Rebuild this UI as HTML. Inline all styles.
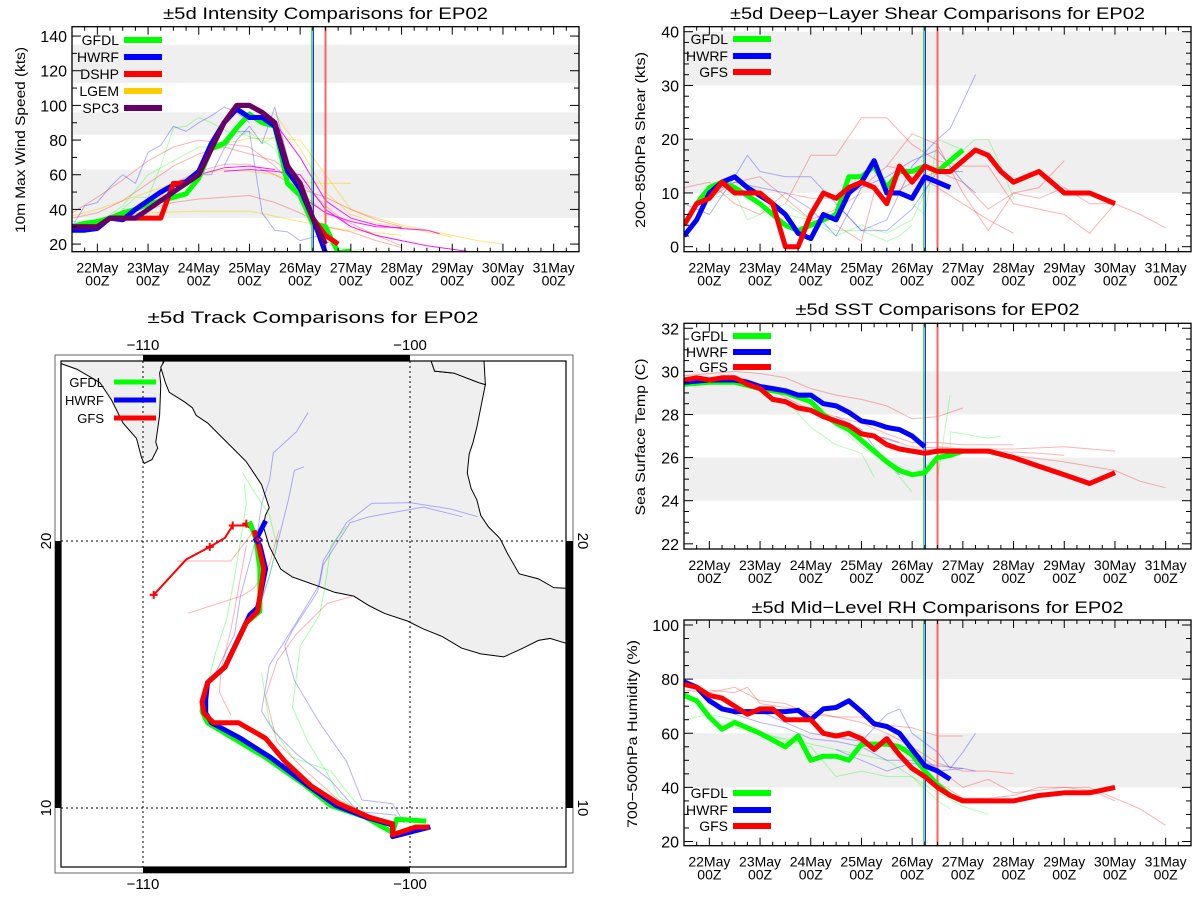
<!DOCTYPE html>
<html><head><meta charset="utf-8"><style>
html,body{margin:0;padding:0;background:#fff;}
svg{display:block;font-family:"Liberation Sans",sans-serif;}
</style></head><body>
<svg id="root" width="1200" height="900" viewBox="0 0 1200 900" xmlns="http://www.w3.org/2000/svg"></svg>
<script>
// ===== Intensity data =====
const intTimes = [21.5,21.75,22,22.25,22.5,22.75,23,23.25,23.5,23.75,24,24.25,24.5,24.75,25,25.25,25.5,25.75,26,26.25,26.5];
const intSPC3 = [30,30,30,35,35,35,40,45,50,55,60,75,90,100,100,96,90,65,55,35,20];
const intHWRF = [28,28,29,35,34,40,45,50,54,56,62,78,90,98,93,93,88,62,52,35,15];
const intGFDLt = [21.5,21.75,22,22.25,22.5,22.75,23,23.25,23.5,23.75,24,24.25,24.5,24.75,25,25.25,25.5,25.75,26,26.25,26.5,26.75,27];
const intGFDL = [30,32,33,35,38,40,43,45,47,49,58,75,78,87,95,90,88,55,48,32,30,15,16];
const intDSHPt = [21.5,21.75,22,22.25,22.5,22.75,23,23.25,23.5,23.75,24,24.25,24.5,24.75,25,25.25,25.5,25.75,26,26.25,26.5,26.75];
const intDSHP = [30,30,30,35,35,35,35,35,55,55,60,75,90,100,100,96,90,65,55,35,25,20];
const intThinBlue = [
 [[21.5,30],[21.75,42],[22,44],[22.25,53],[22.5,60],[22.75,55],[23,73],[23.25,77],[23.5,88],[23.75,85],[24,90],[24.25,94],[24.5,99],[24.75,96],[25,90]],
 [[24.5,65],[24.75,80],[25,88],[25.25,78],[25.5,99],[25.75,70],[26,45],[26.25,30],[26.5,20]],
 [[24,60],[24.25,60],[24.5,75],[24.75,85],[25,85],[25.25,38],[25.5,28],[25.75,27],[26,22],[26.25,24],[26.5,25],[26.75,21]]];
const intThinGreen = [
 [[22.5,40],[22.75,47],[23,47],[23.25,65],[23.5,87],[23.75,88],[24,93],[24.25,90],[24.5,86],[24.75,82],[25,85],[25.25,78],[25.5,82],[25.75,63],[26,45],[26.25,28],[26.5,22],[26.75,18],[27,16],[27.25,17]],
 [[21.5,33],[22,32],[22.5,42],[23,60],[23.5,68],[24,76],[24.25,76],[24.5,80],[24.75,85],[25,82],[25.25,80],[25.5,75],[25.75,60],[26,45],[26.25,35]]];
const intThinRed = [
 [[21.5,38],[22,47],[22.5,57],[23,68],[23.5,76],[24,80],[24.5,78],[25,76],[25.5,65],[26,50],[26.5,38],[27,32],[27.5,25],[28,22]],
 [[21.5,35],[22,38],[22.5,45],[23,55],[23.5,65],[24,72],[24.5,76],[25,72],[25.5,68],[26,56],[26.5,42],[27,30],[27.5,25],[28,19]],
 [[22.5,35],[23,40],[23.5,44],[24,46],[24.5,47],[25,48],[25.5,44],[26,38],[26.5,30],[27,27],[27.5,22],[28,18]],
 [[23,40],[23.5,55],[24,62],[24.5,66],[25,66],[25.5,60],[26,52],[26.5,47],[27,40],[27.5,34],[28,30]]];
const intThinYellow = [
 [[21.5,36],[22,40],[22.5,45],[23,50],[23.5,55],[24,60],[24.5,63],[25,62],[25.5,60],[26,56],[26.5,55],[27,55]],
 [[22,32],[23,38],[24,39],[25,39],[25.5,36],[26,33],[26.5,30],[27,28],[28,25]],
 [[24,70],[24.5,78],[25,81],[25.5,81],[26,80],[26.5,60],[27,40],[27.5,35],[28,31],[28.5,28],[29,25],[29.5,22],[30,20]],
 [[25.5,95],[26,75],[26.5,50],[27,37],[27.5,32],[28,30],[28.5,27],[29,24]]];
const intThinMagenta = [
 [[22,32],[22.5,37],[23,45],[23.5,54],[24,60],[24.5,64],[25,65],[25.5,63]],
 [[25.5,90],[26,70],[26.5,45],[27,35],[27.5,31],[28,29],[28.5,28],[28.75,26]],
 [[24.5,62],[25,63],[25.5,62],[26,60],[26.5,40],[27,30],[27.5,25],[28,22],[28.5,19],[29,17],[29.5,15]],
 [[26,48],[26.5,38],[27,33],[27.5,30],[28,29.5]]];

// ===== Shear data =====
const shrGFSt = [21.5,21.75,22,22.25,22.5,22.75,23,23.25,23.5,23.75,24,24.25,24.5,24.75,25,25.25,25.5,25.75,26,26.25,26.5,26.75,27,27.25,27.5,27.75,28,28.25,28.5,28.75,29,29.25,29.5,29.75,30];
const shrGFS = [4,8,9,12,10,10,10,8,0,0,6,10,9,11,12,11,8,15,12,15,14,14,16,18,17,14,12,13,14,12,10,10,10,9,8];
const shrHWRFt = [21.5,21.75,22,22.25,22.5,22.75,23,23.25,23.5,23.75,24,24.25,24.5,24.75,25,25.25,25.5,25.75,26,26.25,26.5,26.75];
const shrHWRF = [2,5,10,12,13,11,9.5,8,6,2.5,1.5,6,5,10,12,16,10,10,9,13,12,11];
const shrGFDLt = [21.75,22,22.25,22.5,22.75,23,23.25,23.5,23.75,24,24.25,24.5,24.75,25,25.25,25.5,25.75,26,26.25,26.5,26.75,27];
const shrGFDL = [8,11,12,11,9.5,8,6,4,3,4,5,6,13,13,15,11,14,14,15,14,16,18];
const shrThinRed = [
 [[23.5,8],[24,17],[24.5,17],[25,24],[25.5,24],[26,19],[26.5,16],[27,15],[27.5,15],[28,8],[28.5,7],[29,6],[29.5,2.5],[30,8]],
 [[25.5,15],[26,21],[26.5,19],[27,10],[27.5,3],[28,10],[28.5,11],[29,16]],
 [[21.5,11],[22,12],[22.5,8],[23,6],[23.5,10],[24,9],[24.5,9],[25,11],[25.5,15],[26,14],[26.5,11],[27,8],[27.5,5],[28,2.5]],
 [[24.5,4],[25,1],[25.25,10],[25.5,9],[26,12],[26.5,14],[27,12],[27.5,7],[28,10],[28.5,9],[29,11],[29.5,8],[30,8],[30.5,6],[31,3.5]],
 [[22,9],[22.5,12],[23,13],[23.5,9],[24,5],[24.5,7],[25,10]]];
const shrThinBlue = [
 [[21.5,8],[22,6],[22.5,13],[22.75,17],[23,14],[23.5,13],[24,13],[24.5,8],[25,3],[25.5,5],[26,15],[26.5,20],[26.75,22],[27,27],[27.25,32]],
 [[22,10],[22.5,12],[23,11],[23.5,10],[24,7],[24.5,2],[25,11],[25.5,13],[26,16],[26.5,18],[27,12],[27.25,10]],
 [[24.5,8],[25,3],[25.5,3],[26,7],[26.5,14],[27,14]]];
const shrThinGreen = [
 [[22,9],[22.5,10],[22.75,5],[23,6],[23.5,8],[24,5],[24.5,3],[25,3],[25.5,1],[25.75,2],[26,4]],
 [[26,8],[26.25,6],[26.5,20],[26.75,19],[27,18],[27.25,20],[27.5,20],[27.75,15],[28,9]],
 [[23.5,6],[24,5],[24.5,2],[25,4],[25.5,2.5],[26,5],[26.5,15]]];

// ===== SST data =====
const sstGFSt = [21.5,21.75,22,22.25,22.5,22.75,23,23.25,23.5,23.75,24,24.25,24.5,24.75,25,25.25,25.5,25.75,26,26.25,26.5,26.75,27,27.25,27.5,28,28.5,29,29.5,30];
const sstGFS = [29.6,29.7,29.6,29.7,29.7,29.4,29.2,28.7,28.6,28.3,28.2,27.9,27.7,27.5,27.1,27.0,26.6,26.4,26.3,26.2,26.3,26.3,26.3,26.3,26.3,26.0,25.6,25.2,24.8,25.3];
const sstHWRFt = [21.5,22,22.5,22.75,23,23.25,23.5,23.75,24,24.25,24.5,24.75,25,25.25,25.5,25.75,26,26.25];
const sstHWRF = [29.5,29.6,29.6,29.5,29.3,29.2,29.1,28.9,28.9,28.5,28.4,28.1,27.7,27.6,27.4,27.3,27.0,26.5];
const sstGFDLt = [21.5,22,22.5,23,23.5,23.75,24,24.25,24.5,24.75,25,25.25,25.5,25.75,26,26.25,26.5,26.75,27];
const sstGFDL = [29.4,29.5,29.5,29.2,29.0,28.8,28.6,28.0,27.6,27.3,26.8,26.3,25.8,25.4,25.2,25.3,26.0,26.1,26.3];
const sstThinRed = [
 [[21.5,29.8],[22,29.9],[22.5,30],[23,29.9],[23.5,29.7],[24,29.2],[24.5,28.9],[25,28.7],[25.5,28.4],[26,27.8],[26.5,27.9],[27,28.3]],
 [[22.5,29.8],[23,29.4],[24,28.2],[25,27.6],[25.5,27.1],[26,26.7],[26.5,26.7],[27,26.6],[28,26.6]],
 [[25,27.2],[26,26.5],[27,26.4],[28,26.4],[29,26.5],[30,26.3]],
 [[26,26.4],[27,26.3],[28,26.1],[29,25.8],[30,25.4],[30.5,24.9],[31,24.6]],
 [[26.5,26.5],[27.5,26.3],[28.5,26.2],[29,26.1]]];
const sstThinGreen = [
 [[23.5,28.7],[24,27.4],[24.5,26.6],[25,26.2],[25.25,25.1]],
 [[24.5,27.5],[25,26.5],[25.5,25.8],[26,24.4]],
 [[26.5,25.0],[26.75,28.9]],
 [[26.75,26.5],[26.75,27.2],[27,27.1],[27.5,26.9],[27.75,27.0]]];
const sstThinBlue = [
 [[24.5,27.9],[25,27.3],[25.25,26.5],[25.5,25.8],[25.75,25.2]],
 [[25,27.1],[25.5,26.9],[25.75,26.7]]];

// ===== RH data =====
const rhGFSt = [21.5,21.75,22,22.25,22.5,22.75,23,23.25,23.5,23.75,24,24.25,24.5,24.75,25,25.25,25.5,25.75,26,26.25,26.5,26.75,27,27.5,28,28.5,29,29.5,30];
const rhGFS = [78,77,74,73,70,67,69,69,65,65,65,60,59,60,58,54,58,52,47,44,40,37,35,35,35,37,38,38,40];
const rhHWRFt = [21.5,21.75,22,22.25,22.5,22.75,23,23.5,23.75,24,24.25,24.5,24.75,25,25.25,25.5,25.75,26,26.25,26.5,26.75];
const rhHWRF = [79,77,72,69,68,68,68,68,68.5,65,69,69.5,72,68,63.5,62.5,60,54,48,46,43];
const rhGFDLt = [21.5,21.75,22,22.25,22.5,22.75,23,23.5,23.75,24,24.25,24.5,24.75,25,25.25,25.5,25.75,26,26.25,26.5,26.75,27];
const rhGFDL = [74,72,66,61.5,64,62,60,55,59,50,51.5,51.5,50,56,56,56,55,52,46,41,37,35];
const rhThinRed = [
 [[21.5,76],[22,75],[22.5,77],[23,72],[23.5,71],[24,67],[24.5,66],[25,66],[25.5,63],[26,62],[26.5,59],[27,59]],
 [[22,76],[22.5,75],[22.75,77],[23,71],[24,68],[25,64],[25.5,60],[26,55],[26.5,49],[27,46],[27.5,46],[28,45]],
 [[25,55],[25.5,57],[26,54],[26.5,47],[27,40],[27.5,43],[28,38],[28.5,39],[29,40],[29.5,40],[30,36],[30.5,32],[31,26]],
 [[26.5,42],[27,36],[27.5,36],[28,37],[28.5,40],[29,40],[29.5,39],[30,35]]];
const rhThinBlue = [
 [[22,73],[22.5,67],[23,64],[23.5,62],[24,58],[24.5,57],[25,55],[25.5,50],[26,50],[26.5,48],[27,47]],
 [[23,68],[23.5,64],[24,60],[25,57],[25.5,67],[25.75,69],[26,60],[26.5,53],[26.75,47],[27,53],[27.25,60]],
 [[24.5,54],[25,50],[25.5,46],[26,49],[26.5,46],[27,47],[27.25,46]]];
const rhThinGreen = [
 [[21.5,65],[22,67],[22.5,65],[23,60],[24,55],[24.5,44],[25,46],[25.5,44],[26,44],[26.5,38],[27,33],[27.5,30]],
 [[22.5,62],[23,60],[24,56],[25,52],[25.5,50],[26,44],[26.5,35],[26.75,32]]];

// ===== Track data (lon, lat) =====
const trkGFSLon = [-99.28,-99.78,-100.65,-100.65,-101.52,-102.67,-103.68,-104.69,-105.41,-106.42,-107.36,-107.72,-107.79,-107.58,-106.93,-106.13,-105.70,-105.48,-105.67,-105.84];
const trkGFSLat = [9.29,9.29,9.0,9.41,9.65,10.16,10.81,11.75,12.61,13.19,13.19,13.55,13.98,14.70,15.28,16.94,17.37,18.96,19.83,20.40];
const trkGFSFcLon = [-105.84,-106.13,-106.64,-106.93,-107.50,-108.37,-109.60];
const trkGFSFcLat = [20.40,20.58,20.58,20.12,19.78,19.32,17.98];
const trkHWRFLon = [-99.24,-100.65,-100.65,-101.62,-102.77,-103.78,-105.22,-106.35,-107.43,-107.65,-107.65,-107.58,-106.93,-106.0,-105.70,-105.41,-105.62,-105.77,-105.41];
const trkHWRFLat = [9.29,8.93,9.36,9.65,10.09,10.81,11.89,12.61,13.19,13.55,14.05,14.70,15.28,17.23,17.51,18.96,19.83,20.04,20.76];
const trkGFDLLon = [-99.39,-100.50,-100.65,-101.66,-102.96,-103.97,-105.41,-107.58,-107.79,-107.72,-107.58,-106.93,-106.13,-105.62,-105.62,-105.77,-106.01];
const trkGFDLLat = [9.51,9.58,9.08,9.65,10.09,10.88,11.89,13.19,13.62,14.05,14.70,15.28,16.94,17.37,18.96,20.09,20.73];
const trkThinBlue = [
 [[-103.82,24.81],[-104.25,24.09],[-105.12,23.30],[-105.26,22.29],[-105.55,21.42],[-105.70,20.40]],
 [[-103.97,22.78],[-104.33,22.64],[-104.55,21.56],[-104.98,19.83],[-105.27,18.67],[-105.77,17.09]],
 [[-97.47,20.91],[-98.48,21.20],[-100.0,21.44],[-101.44,21.41],[-102.38,20.69],[-103.25,19.25],[-103.46,18.10],[-104.40,16.65],[-104.69,16.08],[-104.33,14.78],[-103.39,13.19],[-102.38,11.75],[-101.80,10.30],[-100.65,10.16],[-100.22,9.44]],
 [[-98.05,20.91],[-99.49,21.27],[-101.52,20.91],[-102.24,20.69],[-103.25,19.11],[-103.39,18.38],[-104.26,16.94],[-105.27,15.35],[-105.56,13.62],[-105.12,12.90],[-104.26,12.03],[-102.96,11.02],[-101.95,9.87],[-100.50,9.73]],
 [[-105.84,19.83],[-106.35,17.95],[-106.57,16.51],[-107.21,15.21],[-107.58,14.63]]];
const trkThinGreen = [
 [[-106.28,22.57],[-105.84,21.85],[-105.27,20.98],[-104.98,19.83],[-105.27,18.67],[-105.56,17.81]],
 [[-106.21,22.14],[-106.13,21.41],[-106.28,20.40],[-106.57,18.67],[-106.86,17.09],[-107.29,15.79],[-107.58,14.63]],
 [[-102.38,20.55],[-102.96,19.83],[-103.17,18.38],[-103.39,17.23],[-104.11,16.08],[-104.40,13.77],[-103.82,12.47],[-103.10,11.31],[-102.67,10.45],[-101.95,9.87],[-100.79,9.15]],
 [[-105.56,15.07],[-105.27,13.19],[-104.40,11.89],[-102.96,11.38],[-102.24,10.45],[-101.52,9.65]]];
const trkThinRed = [
 [[-104.91,20.40],[-105.27,19.11],[-105.56,18.67],[-105.84,18.24],[-106.28,17.95],[-108.30,17.30]],
 [[-102.09,17.95],[-103.10,17.66],[-104.26,16.51],[-104.98,15.50],[-105.41,14.20],[-104.98,12.47],[-103.82,11.31],[-102.67,10.30],[-101.52,9.73]],
 [[-105.84,20.40],[-106.71,19.25],[-108.73,19.25]],
 [[-106.13,19.83],[-106.71,16.65],[-107.07,15.21],[-107.14,14.34],[-106.71,13.48]]];
const trkMarkLon = [-106.64,-106.13,-107.50,-109.60];
const trkMarkLat = [20.58,20.65,19.78,17.98];

const verts = [{d:26.23,c:'#00e000',w:1,n:'gfdl-init-line'},{d:26.26,c:'#0000ff',w:1,n:'hwrf-init-line'},{d:26.5,c:'#ff6060',w:2,n:'gfs-init-line'}];

const NS='http://www.w3.org/2000/svg';
const root=document.getElementById('root');
function mk(tag,attrs,parent){const e=document.createElementNS(NS,tag);for(const k in attrs)e.setAttribute(k,attrs[k]);(parent||root).appendChild(e);return e;}
function txt(s,attrs,parent){const e=mk('text',attrs,parent);e.textContent=s;return e;}

let clipId=0;
function panel(o){
  const g=mk('g',{});
  
  
  const X=d=>o.x0+(d-21.5)/10*(o.x1-o.x0);
  const Y=v=>o.y1-(v-o.v0)/(o.v1-o.v0)*(o.y1-o.y0);
  o.bands.forEach(b=>{
    const r=mk('rect',{x:o.x0,y:Y(Math.min(b[1],o.v1)),width:o.x1-o.x0,height:Y(b[0])-Y(Math.min(b[1],o.v1)),fill:'#efefef'},g);
    
    
  });
  const cid='c'+(clipId++);
  const cp=mk('clipPath',{id:cid},g);mk('rect',{x:o.x0,y:o.y0,width:o.x1-o.x0,height:o.y1-o.y0},cp);
  const sg=mk('g',{'clip-path':'url(#'+cid+')'},g);
  const line=(pts,col,w,op,name)=>{
    const p=mk('polyline',{points:pts.map(q=>X(q[0]).toFixed(1)+','+Y(q[1]).toFixed(1)).join(' '),fill:'none',stroke:col,'stroke-width':w,'stroke-opacity':op,'stroke-linejoin':'round'},sg);
    
    
  };
  o.thin.forEach(t=>t[0].forEach(pts=>line(pts,t[1],1,t[2]||0.35,t[3])));
  verts.forEach(v=>{
    const l=mk('line',{x1:X(v.d),x2:X(v.d),y1:o.y0,y2:o.y1,stroke:v.c,'stroke-width':v.w},sg);
    
    
  });
  o.thick.forEach(s=>line(s.t.map((t,i)=>[t,s.v[i]]),s.c,5,1,s.n));
  const fr=mk('rect',{x:o.x0,y:o.y0,width:o.x1-o.x0,height:o.y1-o.y0,fill:'none',stroke:'#000','stroke-width':1.3},g);
  
  
  for(let d=21.5;d<=31.5001;d+=0.25){
    const major=Math.abs(d-Math.round(d))<1e-6;const L=major?8:4;
    mk('line',{x1:X(d),x2:X(d),y1:o.y1,y2:o.y1-L,stroke:'#000'},g);
    mk('line',{x1:X(d),x2:X(d),y1:o.y0,y2:o.y0+L,stroke:'#000'},g);
    if(major&&d>=22&&d<=31){
      const t1=txt(d+'May',{x:X(d),y:o.y1+21,'font-size':14,'text-anchor':'middle'},g);
      
      
      const t2=txt('00Z',{x:X(d),y:o.y1+34,'font-size':14,'text-anchor':'middle'},g);
      
      
    }
  }
  for(let v=o.yt[0];v<=o.v1+1e-6;v+=o.yminor){
    if(v<o.v0)continue;
    const major=Math.abs(((v-o.yt[0])/o.ymajor)-Math.round((v-o.yt[0])/o.ymajor))<1e-6;const L=major?9:5;
    mk('line',{x1:o.x0,x2:o.x0+L,y1:Y(v),y2:Y(v),stroke:'#000'},g);
    mk('line',{x1:o.x1,x2:o.x1-L,y1:Y(v),y2:Y(v),stroke:'#000'},g);
    if(major){
      const t=txt(String(Math.round(v)),{x:o.x0-5,y:Y(v)+6,'font-size':16,'text-anchor':'end'},g);
      
      
    }
  }
  const yt=txt(o.ylabel,{x:0,y:0,'font-size':14,'text-anchor':'middle',textLength:o.ylen,lengthAdjust:'spacingAndGlyphs',transform:'translate('+o.ylx+','+o.yly+') rotate(-90)'},g);
  
  
  const tt=txt(o.title,{x:(o.x0+o.x1)/2,y:o.ty,'font-size':17,'text-anchor':'middle',textLength:o.tlen,lengthAdjust:'spacingAndGlyphs'},g);
  
  
  o.legend.forEach((e,i)=>{
    const y=o.ly[i];
    const lt=txt(e[0],{x:o.lx,y:y+5,'font-size':14,'text-anchor':'end'},g);
    
    
    const ll=mk('line',{x1:o.lx+5,x2:o.lx+43,y1:y,y2:y,stroke:e[1],'stroke-width':6},g);
    
    
  });
}

const G='#00ff00',B='#0000ff',R='#ff0000',Yc='#ffcc00',P='#660066';
panel({name:'intensity-chart',x0:72,x1:579,y0:26.7,y1:251.7,v0:15.6,v1:145.4,bands:[[35,63],[83,96],[113,135]],
  yt:[20],ymajor:20,yminor:10,ylabel:'10m Max Wind Speed (kts)',ylx:25,yly:140,ylen:186,
  title:'±5d Intensity Comparisons for EP02',ty:19,tlen:325,
  thin:[[intThinYellow,Yc,0.5,'lgem-thin'],[intThinRed,R,0.3,'dshp-thin'],[intThinGreen,G,0.3,'gfdl-thin'],[intThinBlue,B,0.3,'hwrf-thin'],[intThinMagenta,'#ff00ff',0.9,'spc3-thin']],
  thick:[{t:intGFDLt,v:intGFDL,c:G,n:'gfdl-line'},{t:intHWRF.map((_,i)=>intTimes[i]),v:intHWRF,c:B,n:'hwrf-line'},{t:intDSHPt,v:intDSHP,c:R,n:'dshp-line'},{t:intTimes,v:intSPC3,c:P,n:'spc3-line'}],
  legend:[['GFDL',G],['HWRF',B],['DSHP',R],['LGEM',Yc],['SPC3',P]],lx:119,ly:[40,57,74,91,108]});
panel({name:'shear-chart',x0:684,x1:1191,y0:26.7,y1:251.7,v0:-0.93,v1:40.93,bands:[[10,20],[30,40]],
  yt:[0],ymajor:10,yminor:2,ylabel:'200−850hPa Shear (kts)',ylx:645,yly:140,ylen:176,
  title:'±5d Deep−Layer Shear Comparisons for EP02',ty:19,tlen:415,
  thin:[[shrThinRed,R,0.3,'gfs-thin'],[shrThinGreen,G,0.3,'gfdl-thin'],[shrThinBlue,B,0.3,'hwrf-thin']],
  thick:[{t:shrGFDLt,v:shrGFDL,c:G,n:'gfdl-line'},{t:shrHWRFt,v:shrHWRF,c:B,n:'hwrf-line'},{t:shrGFSt,v:shrGFS,c:R,n:'gfs-line'}],
  legend:[['GFDL',G],['HWRF',B],['GFS',R]],lx:728,ly:[39,56,72]});
panel({name:'sst-chart',x0:684,x1:1191,y0:323.3,y1:549,v0:21.76,v1:32.23,bands:[[24,26],[28,30]],
  yt:[22],ymajor:2,yminor:0.5,ylabel:'Sea Surface Temp (C)',ylx:645,yly:437,ylen:157,
  title:'±5d SST Comparisons for EP02',ty:315,tlen:284,
  thin:[[sstThinRed,R,0.3,'gfs-thin'],[sstThinGreen,G,0.3,'gfdl-thin'],[sstThinBlue,B,0.3,'hwrf-thin']],
  thick:[{t:sstGFDLt,v:sstGFDL,c:G,n:'gfdl-line'},{t:sstHWRFt,v:sstHWRF,c:B,n:'hwrf-line'},{t:sstGFSt,v:sstGFS,c:R,n:'gfs-line'}],
  legend:[['GFDL',G],['HWRF',B],['GFS',R]],lx:728,ly:[336,352,367]});
panel({name:'rh-chart',x0:684,x1:1191,y0:620,y1:845.7,v0:18.45,v1:101.85,bands:[[40,60],[80,102]],
  yt:[20],ymajor:20,yminor:5,ylabel:'700−500hPa Humidity (%)',ylx:637,yly:734,ylen:188,
  title:'±5d Mid−Level RH Comparisons for EP02',ty:613,tlen:372,
  thin:[[rhThinRed,R,0.3,'gfs-thin'],[rhThinGreen,G,0.3,'gfdl-thin'],[rhThinBlue,B,0.3,'hwrf-thin']],
  thick:[{t:rhGFDLt,v:rhGFDL,c:G,n:'gfdl-line'},{t:rhHWRFt,v:rhHWRF,c:B,n:'hwrf-line'},{t:rhGFSt,v:rhGFS,c:R,n:'gfs-line'}],
  legend:[['GFDL',G],['HWRF',B],['GFS',R]],lx:728,ly:[793,810,826]});

// ===== Track map =====
(function(){
  const g=mk('g',{});
  
  
  const LX=lon=>143+(lon+110)*26.7;
  const LY=lat=>541-(lat-20)*26.7;
  const tt=txt('±5d Track Comparisons for EP02',{x:313,y:323,'font-size':17,'text-anchor':'middle',textLength:331,lengthAdjust:'spacingAndGlyphs'},g);
  
  
  const cp=mk('clipPath',{id:'mapclip'},g);mk('rect',{x:61,y:361,width:505,height:506},cp);
  const mg=mk('g',{'clip-path':'url(#mapclip)'},g);
  const cg=mk('g',{transform:'translate(0,300) scale(0.3846)'},mg);
  const land=[
   '150,150 158,165 200,180 260,215 290,260 320,320 355,360 368,410 375,425 395,415 410,385 405,370 415,300 418,220 415,190 428,150',
   '432,150 418,175 430,215 440,240 480,265 500,280 510,300 540,320 570,350 600,380 640,420 660,450 680,480 690,510 700,540 690,560 685,590 700,640 730,700 760,720 830,745 870,760 920,770 960,795 1000,815 1060,835 1100,855 1150,875 1200,905 1250,920 1310,928 1360,905 1400,885 1430,880 1480,895 1480,750 1440,748 1400,725 1350,712 1320,660 1300,620 1270,590 1250,560 1240,520 1225,490 1215,450 1220,400 1230,370 1240,330 1262,220 1245,215 1180,190 1130,185 1118,150',
   '1118,150 1130,185 1180,190 1245,215 1262,220 1258,150'];
  land.forEach((pts,i)=>{
    const p=mk('polygon',{points:pts,fill:'#efefef',stroke:'#000','stroke-width':1,'vector-effect':'non-scaling-stroke'},cg);
    
    
  });
  [-110,-100].forEach(l=>mk('line',{x1:LX(l),x2:LX(l),y1:361,y2:867,stroke:'#000','stroke-dasharray':'2,3'},mg));
  [10,20].forEach(l=>mk('line',{x1:61,x2:566,y1:LY(l),y2:LY(l),stroke:'#000','stroke-dasharray':'2,3'},mg));
  const pl=(lons,lats,col,w,op,name)=>{
    const p=mk('polyline',{points:lons.map((l,i)=>LX(l).toFixed(1)+','+LY(lats[i]).toFixed(1)).join(' '),fill:'none',stroke:col,'stroke-width':w,'stroke-opacity':op,'stroke-linejoin':'round'},mg);
    
    
  };
  trkThinBlue.forEach(t=>pl(t.map(q=>q[0]),t.map(q=>q[1]),B,1,0.3,'hwrf-thin-track'));
  trkThinGreen.forEach(t=>pl(t.map(q=>q[0]),t.map(q=>q[1]),G,1,0.35,'gfdl-thin-track'));
  trkThinRed.forEach(t=>pl(t.map(q=>q[0]),t.map(q=>q[1]),R,1,0.3,'gfs-thin-track'));
  pl(trkGFSFcLon,trkGFSFcLat,R,2,1,'gfs-forecast-track');
  trkMarkLon.forEach((l,i)=>{
    const x=LX(l),y=LY(trkMarkLat[i]);
    const m=mk('path',{d:`M${x-4},${y}H${x+4}M${x},${y-4}V${y+4}`,stroke:R,'stroke-width':2},mg);
    
    
  });
  pl(trkGFDLLon,trkGFDLLat,G,5,1,'gfdl-track');
  pl(trkHWRFLon,trkHWRFLat,B,5,1,'hwrf-track');
  pl(trkGFSLon,trkGFSLat,R,5,1,'gfs-track');
  const dx=LX(-105.7),dy=LY(20.05);
  const dm=mk('polygon',{points:`${dx},${dy-4} ${dx+4},${dy} ${dx},${dy+4} ${dx-4},${dy}`,fill:'none',stroke:B,'stroke-width':1.5},mg);
  
  
  mk('rect',{x:55,y:355,width:518,height:518,fill:'none',stroke:'#666','stroke-width':1},g);
  mk('rect',{x:61,y:361,width:505,height:506,fill:'none',stroke:'#000','stroke-width':1.2},g);
  mk('rect',{x:LX(-110),y:355,width:LX(-100)-LX(-110),height:6,fill:'#000'},g);
  mk('rect',{x:LX(-110),y:867,width:LX(-100)-LX(-110),height:6,fill:'#000'},g);
  mk('rect',{x:55,y:LY(20),width:6,height:LY(10)-LY(20),fill:'#000'},g);
  mk('rect',{x:566,y:LY(20),width:7,height:LY(10)-LY(20),fill:'#000'},g);
  [-110,-100].forEach(l=>{
    const a=txt('−'+Math.abs(l),{x:LX(l),y:350,'font-size':15,'text-anchor':'middle'},g);
    
    
    const b=txt('−'+Math.abs(l),{x:LX(l),y:889,'font-size':15,'text-anchor':'middle'},g);
    
    
  });
  [10,20].forEach(l=>{
    const a=txt(String(l),{x:0,y:0,'font-size':15,'text-anchor':'middle',transform:`translate(51,${LY(l)}) rotate(-90)`},g);
    
    
    const b=txt(String(l),{x:0,y:0,'font-size':15,'text-anchor':'middle',transform:`translate(578,${LY(l)}) rotate(90)`},g);
    
    
  });
  [['GFDL',G,382],['HWRF',B,400],['GFS',R,418]].forEach(e=>{
    const t=txt(e[0],{x:104,y:e[2]+5,'font-size':13,'text-anchor':'end'},g);
    
    
    const l=mk('line',{x1:114,x2:156,y1:e[2],y2:e[2],stroke:e[1],'stroke-width':5},g);
    
    
  });
})();
</script>
</body></html>
